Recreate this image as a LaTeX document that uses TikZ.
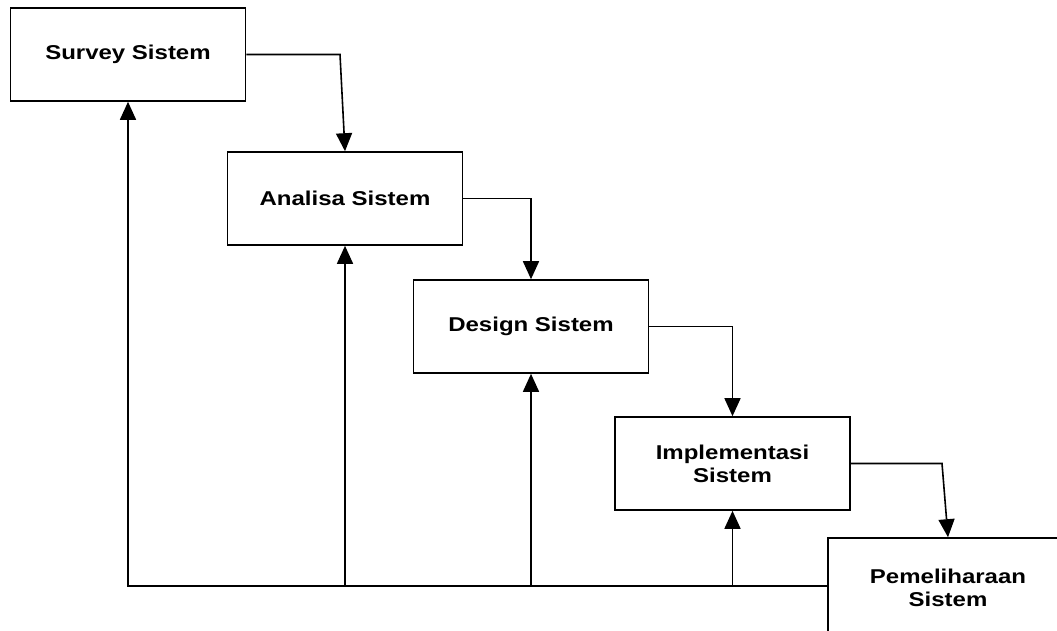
\documentclass[tikz,border=0pt]{standalone}
\usepackage{fontspec}
\setmainfont{Liberation Sans}[FakeStretch=1.2]
\usetikzlibrary{arrows.meta}

\begin{document}
\begin{tikzpicture}[x=1pt,y=-1pt,
    stagebox/.style={draw,line width=1.6pt,minimum width=235pt,minimum height=93pt,
        align=center,font=\fontsize{20}{23}\selectfont\bfseries},
    flowline/.style={line width=1.6pt,-{Triangle[length=18pt,width=16pt]}}]

    % Fix the page size
    \useasboundingbox (0,0) rectangle (1057,630);

    % Draw the stages
    \node[stagebox] (survey) at (128,54.5) {Survey Sistem};
    \node[stagebox] (analisa) at (345,198.5) {Analisa Sistem};
    \node[stagebox] (design) at (531,326.5) {Design Sistem};
    \node[stagebox] (implementasi) at (732.5,463.5) {Implementasi\\Sistem};
    \node[stagebox,minimum width=240pt,minimum height=100pt] (pemeliharaan) at (948,588) {Pemeliharaan\\Sistem};

    % Forward arrows
    \draw[flowline] (survey.east) -- ([xshift=-5pt]analisa.north |- survey.east) -- (analisa.north);
    \draw[flowline] (analisa.east) -| (design.north);
    \draw[flowline] (design.east) -| (implementasi.north);
    \draw[flowline] (implementasi.east) -- ([xshift=-6pt]pemeliharaan.north |- implementasi.east) -- (pemeliharaan.north);

    % Feedback line along the bottom
    \coordinate (back) at ([yshift=2pt]pemeliharaan.west);
    \draw[flowline] (back) -| (survey.south);
    \draw[flowline] (analisa.south |- back) -- (analisa.south);
    \draw[flowline] (design.south |- back) -- (design.south);
    \draw[flowline] (implementasi.south |- back) -- (implementasi.south);

\end{tikzpicture}
\end{document}
